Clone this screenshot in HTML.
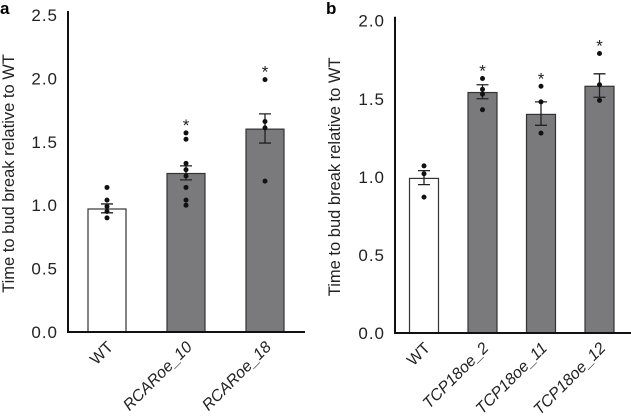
<!DOCTYPE html>
<html><head><meta charset="utf-8"><style>
body{margin:0;background:#fff;}
svg{display:block;font-family:"Liberation Sans",sans-serif;}
</style></head><body>
<svg id="chart" width="631" height="417" xmlns="http://www.w3.org/2000/svg">
<text x="0" y="14" font-size="17" font-weight="bold">a</text>
<text x="326" y="14" font-size="17" font-weight="bold">b</text>
</svg>
<script>
const aCats=['WT','RCARoe_10','RCARoe_18'];
const aMeans=[0.97,1.25,1.60];
const aErrHi=[1.01,1.31,1.72];
const aErrLo=[0.94,1.20,1.49];
const aPoints=[[1.14,1.04,0.99,0.95,0.90],[1.57,1.52,1.33,1.28,1.23,1.14,1.04,1.00],[1.99,1.66,1.61,1.19]];
const aStars=[false,true,true];
const aTicks=['0.0','0.5','1.0','1.5','2.0','2.5'];

const bCats=['WT','TCP18oe_2','TCP18oe_11','TCP18oe_12'];
const bMeans=[0.99,1.54,1.40,1.58];
const bErrHi=[1.04,1.59,1.48,1.66];
const bErrLo=[0.95,1.50,1.33,1.51];
const bPoints=[[1.07,1.02,0.87],[1.63,1.56,1.53,1.43],[1.58,1.48,1.28],[1.79,1.59,1.49]];
const bStars=[false,true,true,true];
const bTicks=['0.0','0.5','1.0','1.5','2.0'];

const NS='http://www.w3.org/2000/svg';
const svg=document.getElementById('chart');
function mk(tag,attrs){const e=document.createElementNS(NS,tag);for(const k in attrs)e.setAttribute(k,attrs[k]);svg.appendChild(e);return e;}

function panel(p,cats,means,hi,lo,pts,stars,ticks,cfg){
  const y=v=>cfg.y0-(v/cfg.ymax)*(cfg.y0-cfg.ytop);
  const x=i=>cfg.x0+i*cfg.step;
  ticks.forEach(t=>{
    const e=mk('text',{x:cfg.axX-10,y:y(parseFloat(t))+6,'font-size':17,'letter-spacing':1,'text-anchor':'end',fill:'#222'});
    e.textContent=t;
    
    
  });
  const yt=mk('text',{x:0,y:0,'font-size':16.5,'text-anchor':'middle',fill:'#222',transform:`translate(${cfg.titleX},${(cfg.y0+cfg.ytop)/2}) rotate(-90)`});
  yt.textContent='Time to bud break relative to WT';
  
  
  cats.forEach((c,i)=>{
    const cx=x(i);
    const b=mk('rect',{x:cx-cfg.bw/2,y:y(means[i]),width:cfg.bw,height:cfg.y0-y(means[i]),fill:i===0?'#fff':'#7a7a7c',stroke:'#333','stroke-width':1.2});
    
    
    const el=mk('path',{d:`M${cx} ${y(hi[i])}V${y(lo[i])}M${cx-6} ${y(hi[i])}H${cx+6}M${cx-6} ${y(lo[i])}H${cx+6}`,stroke:'#222','stroke-width':1.3,fill:'none'});
    
    
    pts[i].forEach(v=>{
      const d=mk('circle',{cx:cx,cy:y(v),r:2.5,fill:'#111'});
      
      
    });
    if(stars[i]){
      const mx=Math.max(...pts[i],hi[i]);
      const s=mk('text',{x:cx,y:y(mx)-2,'font-size':17,'text-anchor':'middle',fill:'#222'});
      s.textContent='*';
      
      
    }
    const lab=mk('text',{x:0,y:0,'font-size':16,'text-anchor':'end',fill:'#222','font-style':i===0?'normal':'italic',transform:`translate(${cx+7},${cfg.y0+16}) rotate(-45)`});
    lab.textContent=c;
    
    
  });
  const ax=mk('path',{d:`M${cfg.axX} ${cfg.ytop-4}V${cfg.y0}H${cfg.axEnd}`,stroke:'#111','stroke-width':2,fill:'none'});
  
  
}
panel('panel-a',aCats,aMeans,aErrHi,aErrLo,aPoints,aStars,aTicks,{y0:332,ytop:15,ymax:2.5,x0:107,step:79,bw:38,axX:68,axEnd:305,titleX:14});
panel('panel-b',bCats,bMeans,bErrHi,bErrLo,bPoints,bStars,bTicks,{y0:333,ytop:20.7,ymax:2.0,x0:424,step:58.5,bw:29,axX:395,axEnd:631,titleX:340});
</script>
</body></html>
